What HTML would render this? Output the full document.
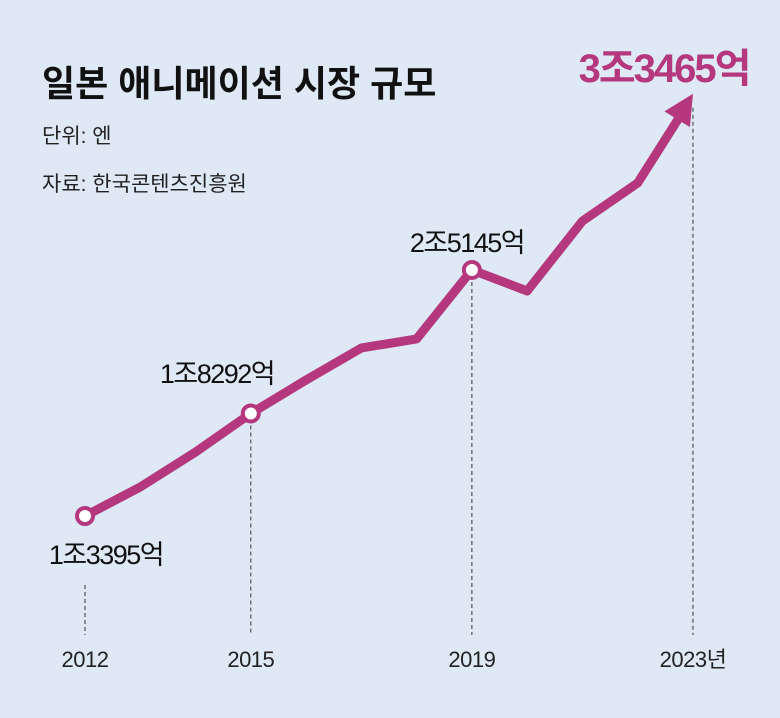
<!DOCTYPE html>
<html><head><meta charset="utf-8"><style>
body{margin:0;background:#dee9f5;}
#c{width:780px;height:713px;position:relative;background:#dee9f5;font-family:"Liberation Sans","Noto Sans CJK KR",sans-serif;}
</style></head><body>
<div id="c">
<svg id="s" width="780" height="713">
<text x="42" y="96" font-size="36" font-weight="bold" fill="#111" font-family="Liberation Sans,Noto Sans CJK KR,sans-serif" letter-spacing="0">일본 애니메이션 시장 규모</text>
<text x="42" y="143" font-size="21" fill="#222" font-family="Liberation Sans,Noto Sans CJK KR,sans-serif">단위: 엔</text>
<text x="42" y="191" font-size="21" fill="#222" font-family="Liberation Sans,Noto Sans CJK KR,sans-serif">자료: 한국콘텐츠진흥원</text>
<g id="g"></g>
</svg>
</div>
<script>
const years=[2012,2013,2014,2015,2016,2017,2018,2019,2020,2021,2022,2023];
const values=[13395,14780,16450,18292,19890,21420,21850,25145,24140,27480,29300,33465];
const xLabels=["2012","2015","2019","2023년"];
const labelYears=[2012,2015,2019,2023];
const valueLabels=["1조3395억","1조8292억","2조5145억","3조3465억"];
const X=y=>85+(y-2012)*55.27;
const Y=v=>516-(v-13395)*0.02094;
const ns="http://www.w3.org/2000/svg";
const g=document.getElementById('g');
function mk(t,a){const e=document.createElementNS(ns,t);for(const k in a)e.setAttribute(k,a[k]);g.appendChild(e);return e;}
const col="#b5387f";
labelYears.forEach((yr,i)=>{
  const v=values[years.indexOf(yr)];
  const y0=i==0?585:Y(v)+12;
  const d=mk('line',{x1:X(yr),x2:X(yr),y1:y0,y2:635,stroke:"#333","stroke-width":1,"stroke-dasharray":"4,3"});
  
  
  const t=mk('text',{x:X(yr),y:667,"font-size":22,"text-anchor":"middle",fill:"#222","letter-spacing":-0.5});
  t.textContent=xLabels[i];
  
  
});
const n=years.length;
let pts=[];
for(let i=0;i<n;i++){let x=X(years[i]),y=Y(values[i]);
  if(i==n-1){const px=X(years[i-1]),py=Y(values[i-1]);const dx=x-px,dy=y-py,L=Math.hypot(dx,dy);x-=dx/L*20;y-=dy/L*20;}
  pts.push(x+","+y);}
const pl=mk('polyline',{points:pts.join(" "),fill:"none",stroke:col,"stroke-width":9,"stroke-linejoin":"round","stroke-linecap":"round"});


{const tx=X(2023),ty=Y(values[n-1])-2,px=X(2022),py=Y(values[n-2]);
 const dx=tx-px,dy=ty-py,L=Math.hypot(dx,dy),ux=dx/L,uy=dy/L;
 const bx=tx-ux*30,by=ty-uy*30;
 const a=mk('polygon',{points:`${tx},${ty} ${bx-uy*15},${by+ux*15} ${bx+uy*15},${by-ux*15}`,fill:col});
 
 }
const lpos=[[106,564],[217,383],[467,252],[664,82]];
labelYears.forEach((yr,i)=>{
  const v=values[years.indexOf(yr)];
  if(i<3){const c=mk('circle',{cx:X(yr),cy:Y(v),r:8,fill:"#fff",stroke:col,"stroke-width":4});
   
   }
  const big=i==3;
  const t=mk('text',{x:lpos[i][0],y:lpos[i][1],"font-size":big?40:27,"text-anchor":"middle",fill:big?col:"#111","letter-spacing":big?-2:-1.5,"font-weight":big?"bold":"normal"});
  t.textContent=valueLabels[i];
  
  
});
</script>
</body></html>
